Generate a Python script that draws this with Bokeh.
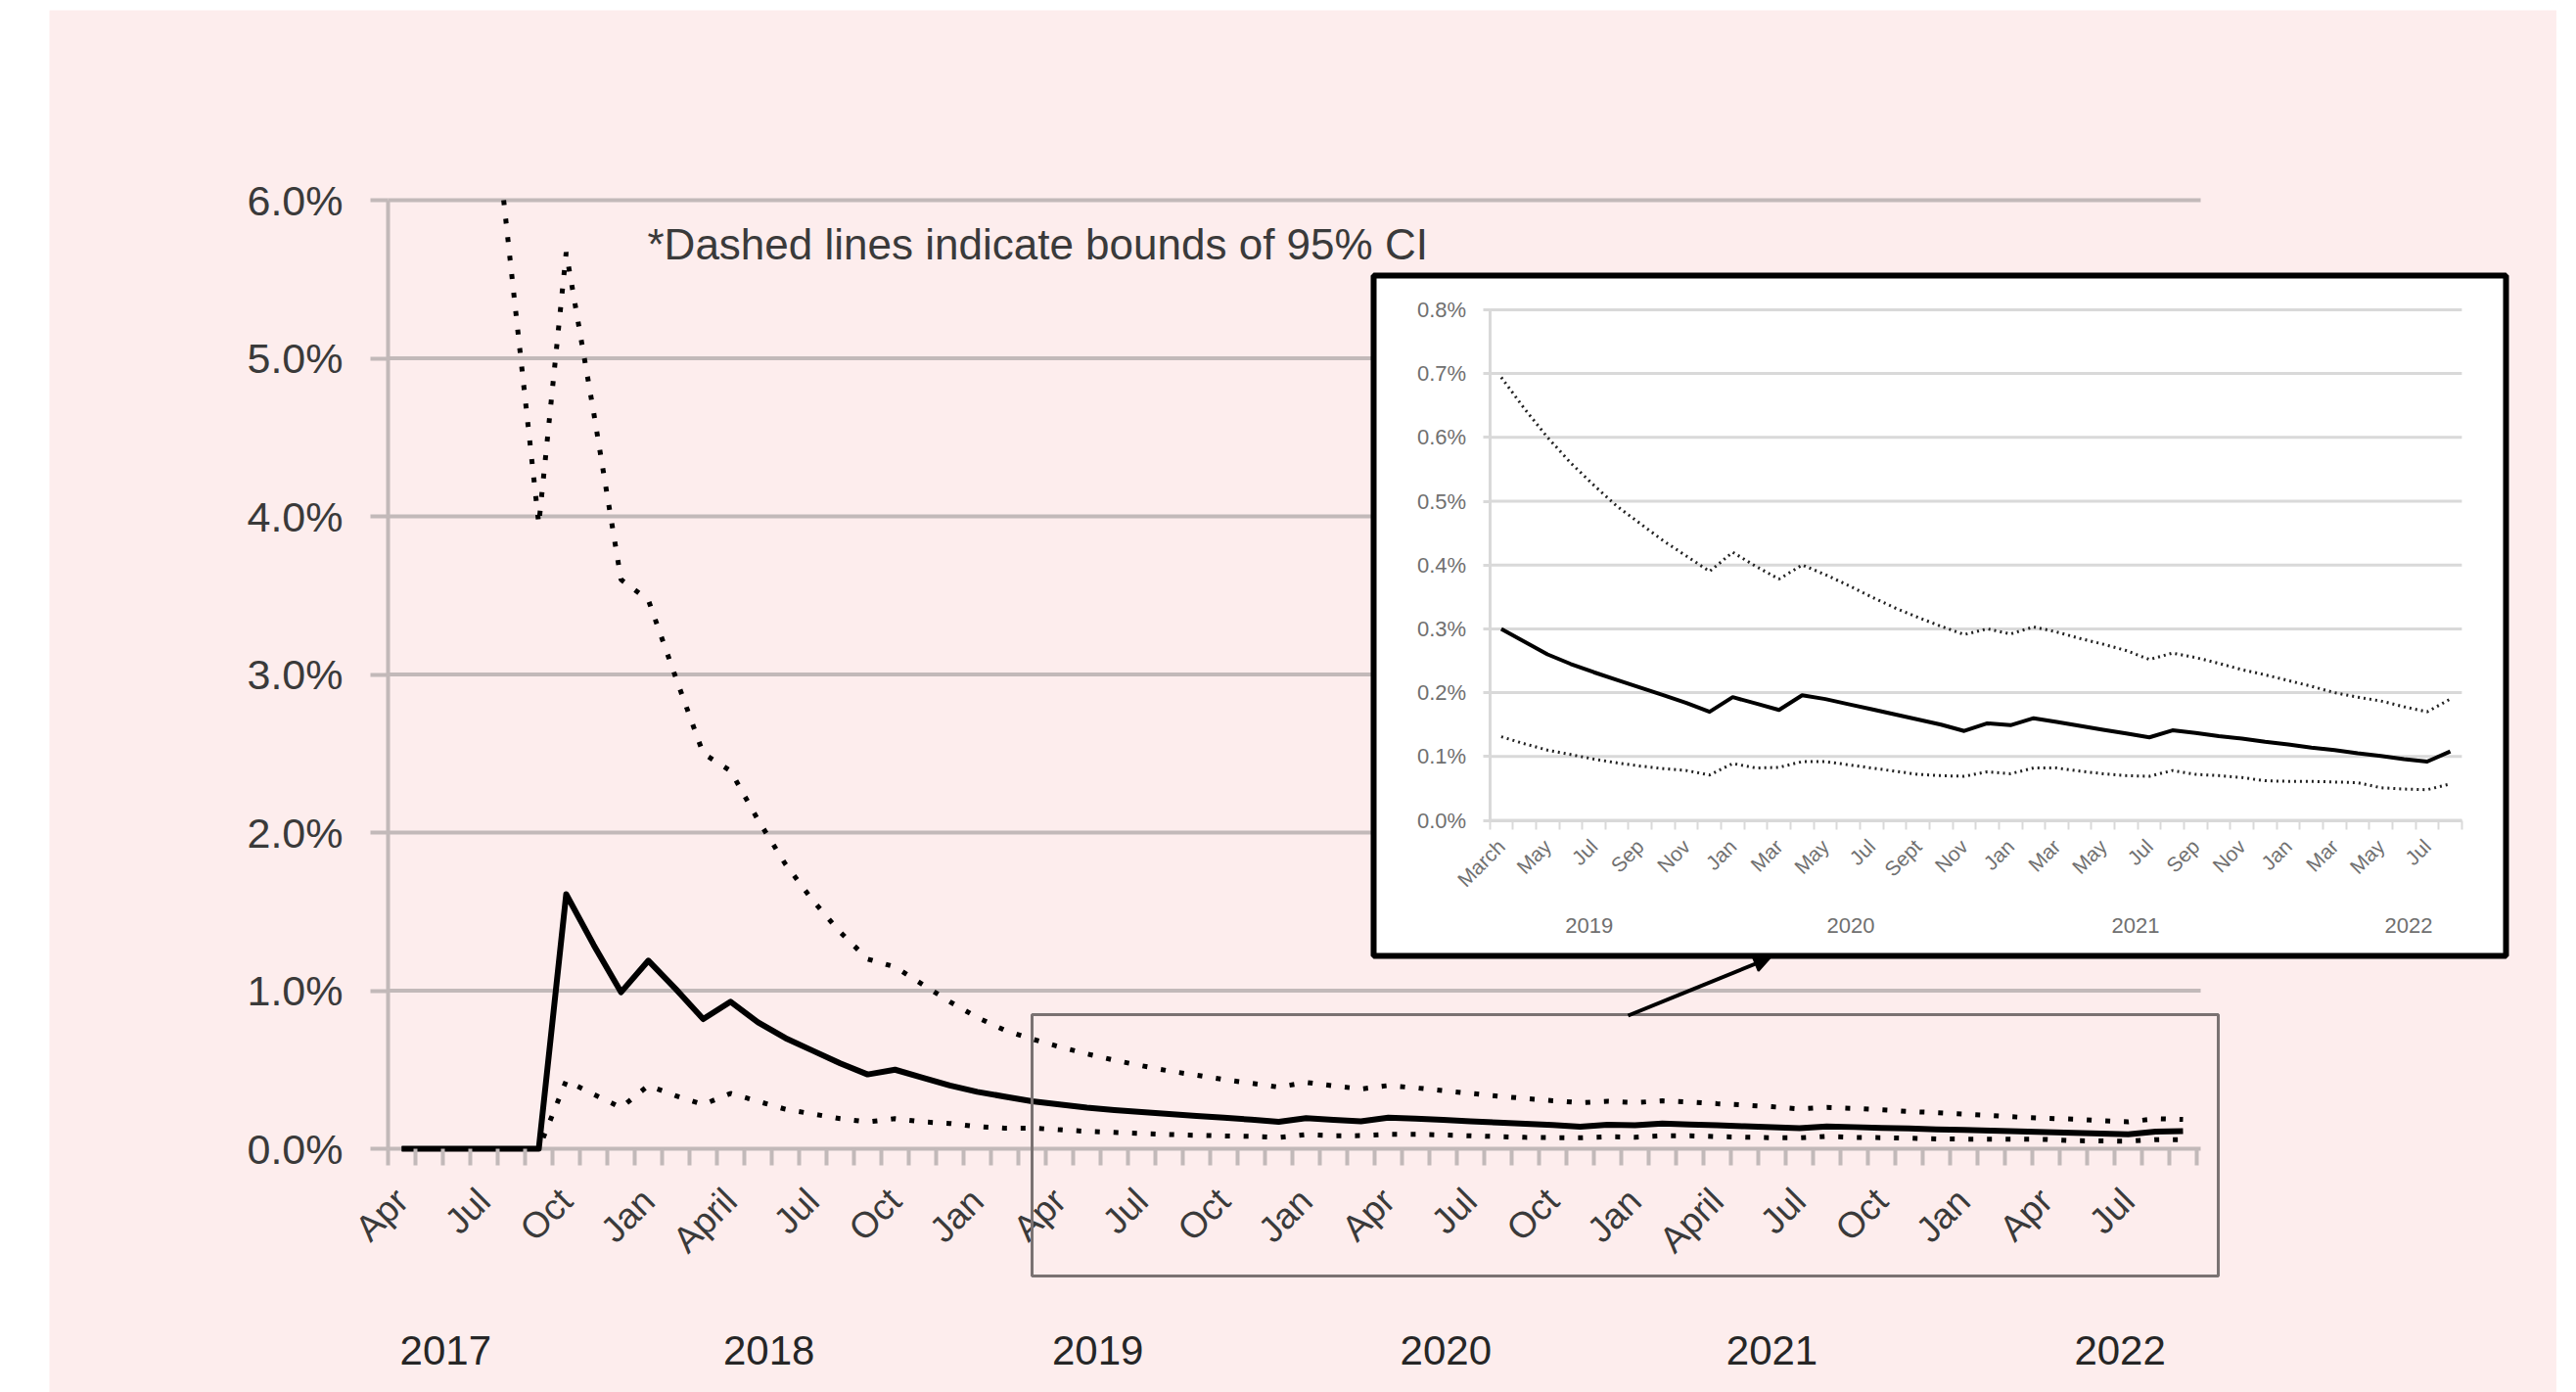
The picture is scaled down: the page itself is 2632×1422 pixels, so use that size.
from math import isnan, pi

from bokeh.core.properties import value
from bokeh.embed import file_html
from bokeh.layouts import column, row
from bokeh.models import (Arrow, FixedTicker, Label, LinearAxis, NormalHead,
                          PrintfTickFormatter, Range1d, Spacer)
from bokeh.plotting import figure
from bokeh.resources import INLINE

nan = float("nan")

# ---------------------------------------------------------------- data
# Monthly estimates (%), April 2017 .. September 2022 (66 months)
month_index = list(range(66))

central_pct = [
    0, 0, 0, 0, 0, 0, 1.61, 1.29, 0.99, 1.19, 1.01, 0.82, 0.93, 0.80, 0.70,
    0.62, 0.54, 0.47, 0.50, 0.45, 0.40, 0.36, 0.33,
    0.300, 0.280, 0.260, 0.245, 0.232, 0.220, 0.208, 0.196, 0.184, 0.170,
    0.193, 0.183, 0.173, 0.196, 0.190, 0.182, 0.174, 0.166, 0.158, 0.150,
    0.140, 0.152, 0.149, 0.160, 0.154, 0.148, 0.142, 0.136, 0.130, 0.141,
    0.137, 0.132, 0.128, 0.123, 0.119, 0.114, 0.110, 0.105, 0.101, 0.096,
    0.092, 0.108, 0.112,
]

upper_ci_pct = [
    nan, nan, nan, 7.15, 5.55, 3.95, 5.67, 4.66, 3.60, 3.47, 2.98, 2.50,
    2.39, 2.08, 1.80, 1.57, 1.37, 1.20, 1.15, 1.04, 0.93, 0.83, 0.75,
    0.694, 0.645, 0.600, 0.560, 0.525, 0.492, 0.465, 0.438, 0.414, 0.390,
    0.420, 0.398, 0.378, 0.400, 0.385, 0.368, 0.350, 0.333, 0.318, 0.304,
    0.291, 0.300, 0.292, 0.303, 0.295, 0.285, 0.276, 0.266, 0.252, 0.262,
    0.255, 0.246, 0.236, 0.228, 0.219, 0.210, 0.200, 0.193, 0.187, 0.178,
    0.170, 0.190, 0.185,
]

lower_ci_pct = [
    0, 0, 0, 0, 0, 0, 0.43, 0.345, 0.26, 0.40, 0.335, 0.28, 0.35, 0.30,
    0.25, 0.22, 0.19, 0.17, 0.19, 0.17, 0.16, 0.14, 0.13,
    0.131, 0.120, 0.110, 0.103, 0.096, 0.090, 0.085, 0.081, 0.078, 0.071,
    0.089, 0.082, 0.083, 0.092, 0.092, 0.087, 0.082, 0.077, 0.072, 0.070,
    0.069, 0.076, 0.073, 0.082, 0.082, 0.077, 0.073, 0.070, 0.069, 0.078,
    0.072, 0.070, 0.067, 0.062, 0.061, 0.061, 0.060, 0.059, 0.051, 0.049,
    0.048, 0.057, 0.058,
]

main_month_labels = ["Apr", "Jul", "Oct", "Jan", "April", "Jul", "Oct", "Jan",
                     "Apr", "Jul", "Oct", "Jan", "Apr", "Jul", "Oct", "Jan",
                     "April", "Jul", "Oct", "Jan", "Apr", "Jul"]
main_years = ["2017", "2018", "2019", "2020", "2021", "2022"]
main_y_ticks = [0, 1, 2, 3, 4, 5, 6]

# Detail panel: March 2019 .. August 2022
inset_first, inset_count = 23, 42
inset_month_labels = ["March", "May", "Jul", "Sep", "Nov", "Jan", "Mar", "May",
                      "Jul", "Sept", "Nov", "Jan", "Mar", "May", "Jul", "Sep",
                      "Nov", "Jan", "Mar", "May", "Jul"]
inset_years = ["2019", "2020", "2021", "2022"]
inset_y_ticks = [0.0, 0.1, 0.2, 0.3, 0.4, 0.5, 0.6, 0.7, 0.8]

note_text = "*Dashed lines indicate bounds of 95% CI"

# ---------------------------------------------------------------- layout
PAGE_W = 2632
PANEL_X, PANEL_Y = 50, 10            # pink panel offset on the page
PANEL_W, PANEL_H = 2562, 1412

# main chart scale (page pixels)
M_X0, M_DX = 410.0, 28.0              # centre of first month, px per month
M_Y0, M_DY = 1173.0, 161.5            # 0 % baseline, px per 1 %
# detail chart scale
I_X0, I_DX = 1533.4, 23.65
I_Y0, I_DY = 837.5, 652.0

FONT = "Liberation Sans"
PINK = "#fdeded"
GRID = "#c2b9b9"
INSET_GRID = "#d9d9d9"
TEXT = "#3a3a3a"
INSET_TEXT = "#707070"


def x_span(x0, dx):
    return Range1d((PANEL_X - x0) / dx, (PANEL_X + PANEL_W - x0) / dx)


def y_span(y0, dy):
    return Range1d((y0 - (PANEL_Y + PANEL_H)) / dy, (y0 - PANEL_Y) / dy)


def mx(px):
    return (px - M_X0) / M_DX


def my(py):
    return (M_Y0 - py) / M_DY


def ix(px):
    return (px - I_X0) / I_DX


def iy(py):
    return (I_Y0 - py) / I_DY


def clip_above(xs, ys, top):
    """Cut a polyline where it leaves the plotting area at the axis maximum."""
    out_x, out_y = [], []
    for i, (x, y) in enumerate(zip(xs, ys)):
        if i > 0:
            x0, y0 = xs[i - 1], ys[i - 1]
            if not (isnan(y0) or isnan(y)) and (y0 > top) != (y > top):
                t = (top - y0) / (y - y0)
                out_x.append(x0 + t * (x - x0))
                out_y.append(top)
        if isnan(y) or y > top:
            if out_y and not isnan(out_y[-1]):
                out_x.append(x)
                out_y.append(nan)
        else:
            out_x.append(x)
            out_y.append(y)
    return out_x, out_y


p = figure(width=PANEL_W, height=PANEL_H, x_range=x_span(M_X0, M_DX),
           y_range=y_span(M_Y0, M_DY), output_backend="svg",
           toolbar_location=None, min_border=0, title=None,
           x_axis_type=None, y_axis_type=None,
           background_fill_color=PINK, border_fill_color=PINK,
           outline_line_color=None)
p.extra_x_ranges = {"ix": x_span(I_X0, I_DX)}
p.extra_y_ranges = {"iy": y_span(I_Y0, I_DY)}

n_main = len(month_index)
main_right = mx(2248)
y_max = main_y_ticks[-1]

# main horizontal gridlines
p.segment(x0=[-0.5] * len(main_y_ticks), x1=[main_right] * len(main_y_ticks),
          y0=main_y_ticks, y1=main_y_ticks, line_color=GRID, line_width=4)

# main series
p.line(month_index, central_pct, line_color="black", line_width=6,
       line_join="round")
dots = dict(line_color="black", line_width=5, line_dash="5 14", line_cap="butt")
ux, uy = clip_above(month_index, upper_ci_pct, y_max)
p.line(ux, uy, **dots)
p.line(month_index, lower_ci_pct, **dots)

# main axes
yax = LinearAxis(fixed_location=-0.5, bounds=(0, y_max),
                 ticker=FixedTicker(ticks=main_y_ticks),
                 formatter=PrintfTickFormatter(format="%.1f%%"))
yax.axis_line_color = GRID
yax.axis_line_width = 4
yax.major_tick_in = 0
yax.major_tick_out = 18
yax.major_tick_line_color = GRID
yax.major_tick_line_width = 4
yax.minor_tick_line_color = None
yax.major_label_standoff = 28
yax.major_label_text_font = FONT
yax.major_label_text_font_size = "43px"
yax.major_label_text_color = TEXT
p.add_layout(yax, "left")

main_label_pos = [float(k) for k in range(0, n_main - 2, 3)]
xax = LinearAxis(fixed_location=0, bounds=(-0.5, n_main - 0.5),
                 ticker=FixedTicker(ticks=main_label_pos,
                                    minor_ticks=[k - 0.5 for k in range(n_main + 1)]))
xax.major_label_overrides = dict(zip(main_label_pos, main_month_labels))
xax.major_label_orientation = pi / 4
xax.axis_line_color = None
xax.major_tick_in = 0
xax.major_tick_out = 0
xax.major_tick_line_color = None
xax.minor_tick_in = 0
xax.minor_tick_out = 17
xax.minor_tick_line_color = GRID
xax.minor_tick_line_width = 4
xax.major_label_standoff = 30
xax.major_label_text_font = FONT
xax.major_label_text_font_size = "37px"
xax.major_label_text_color = TEXT
p.add_layout(xax, "below")

main_year_month = [1.6, 13.4, 25.4, 38.1, 50.0, 62.7]
p.text(x=main_year_month, y=[my(1379)] * len(main_years), text=main_years,
       text_font=value(FONT), text_font_size="42px", text_color="#262626",
       text_align="center", text_baseline="middle")

p.add_layout(Label(x=mx(661), y=my(249), text=note_text, text_font=FONT,
                   text_font_size="44px", text_color=TEXT,
                   text_baseline="alphabetic", text_align="left"))

# box marking the detailed period
p.quad(left=[float(inset_first)], right=[mx(2266)], bottom=[my(1303)],
       top=[my(1036)], fill_color=None, line_color="#7a7272", line_width=3,
       level="annotation")
p.add_layout(Arrow(end=NormalHead(size=16, fill_color="black",
                                  line_color="black", line_width=2),
                   x_start=mx(1663), y_start=my(1037), x_end=mx(1808),
                   y_end=my(978), line_color="black", line_width=4))

# ---------------------------------------------------------------- detail panel
ir = dict(x_range_name="ix", y_range_name="iy")
p.quad(left=[ix(1403)], right=[ix(2560)], bottom=[iy(976)], top=[iy(281)],
       fill_color="white", line_color="black", line_width=6, **ir)

inset_idx = list(range(inset_count))
inset_central = central_pct[inset_first:inset_first + inset_count]
inset_upper = upper_ci_pct[inset_first:inset_first + inset_count]
inset_lower = lower_ci_pct[inset_first:inset_first + inset_count]

p.segment(x0=[-0.5] * len(inset_y_ticks), x1=[inset_count - 0.5] * len(inset_y_ticks),
          y0=inset_y_ticks, y1=inset_y_ticks, line_color=INSET_GRID,
          line_width=3, **ir)
p.line(inset_idx, inset_central, line_color="black", line_width=4,
       line_join="round", **ir)
idots = dict(line_color="#222222", line_width=3, line_dash="2 4",
             line_cap="butt")
p.line(inset_idx, inset_upper, **idots, **ir)
p.line(inset_idx, inset_lower, **idots, **ir)

iyax = LinearAxis(fixed_location=-0.5, bounds=(0, 0.8),
                  ticker=FixedTicker(ticks=inset_y_ticks),
                  formatter=PrintfTickFormatter(format="%.1f%%"), **ir)
iyax.axis_line_color = INSET_GRID
iyax.axis_line_width = 3
iyax.major_tick_in = 0
iyax.major_tick_out = 7
iyax.major_tick_line_color = INSET_GRID
iyax.major_tick_line_width = 3
iyax.minor_tick_line_color = None
iyax.major_label_standoff = 17
iyax.major_label_text_font = FONT
iyax.major_label_text_font_size = "22px"
iyax.major_label_text_color = INSET_TEXT
p.add_layout(iyax, "left")

inset_label_pos = [float(j) for j in range(0, inset_count - 1, 2)]
ixax = LinearAxis(fixed_location=0, bounds=(-0.5, inset_count - 0.5),
                  ticker=FixedTicker(ticks=inset_label_pos,
                                     minor_ticks=[j - 0.5 for j in range(inset_count + 1)]),
                  **ir)
ixax.major_label_overrides = dict(zip(inset_label_pos, inset_month_labels))
ixax.major_label_orientation = pi / 4
ixax.axis_line_color = INSET_GRID
ixax.axis_line_width = 3
ixax.major_tick_in = 0
ixax.major_tick_out = 0
ixax.major_tick_line_color = None
ixax.minor_tick_in = 0
ixax.minor_tick_out = 9
ixax.minor_tick_line_color = INSET_GRID
ixax.minor_tick_line_width = 2
ixax.major_label_standoff = 14
ixax.major_label_text_font = FONT
ixax.major_label_text_font_size = "21px"
ixax.major_label_text_color = INSET_TEXT
p.add_layout(ixax, "below")

inset_year_month = [3.8, 15.1, 27.4, 39.2]
p.text(x=inset_year_month, y=[iy(945)] * len(inset_years), text=inset_years,
       text_font=value(FONT), text_font_size="22px", text_color=INSET_TEXT,
       text_align="center", text_baseline="middle", **ir)

page = column(Spacer(width=PAGE_W, height=PANEL_Y),
              row(Spacer(width=PANEL_X, height=PANEL_H), p))

open("out.html", "w").write(file_html(page, INLINE))
